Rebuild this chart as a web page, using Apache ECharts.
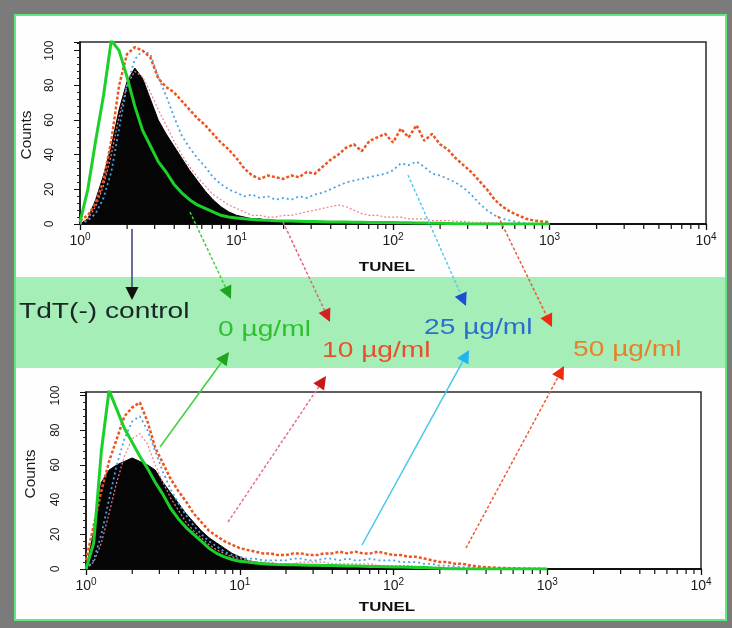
<!DOCTYPE html>
<html>
<head>
<meta charset="utf-8">
<script src="https://cdn.jsdelivr.net/npm/echarts@6.0.0/dist/echarts.min.js"></script>
<style>
html,body{margin:0;padding:0;background:#7b7b7b;}
#c{width:732px;height:628px;}
</style>
</head>
<body>
<div id="c"></div>
<script>
// Channel positions as log10 exponents of TUNEL intensity (0 .. 3.0)
const exps = [0,0.05,0.1,0.15,0.2,0.25,0.3,0.35,0.4,0.45,
  0.5,0.55,0.6,0.65,0.7,0.75,0.8,0.85,0.9,0.95,
  1,1.05,1.1,1.15,1.2,1.25,1.3,1.35,1.4,1.45,
  1.5,1.55,1.6,1.65,1.7,1.75,1.8,1.85,1.9,1.95,
  2,2.05,2.1,2.15,2.2,2.25,2.3,2.35,2.4,2.45,
  2.5,2.55,2.6,2.65,2.7,2.75,2.8,2.85,2.9,2.95,
  3];

// ---- Top panel counts ----
const topControl = [0,3,14,28,45,66,82,90,84,72,
  60,52,45,38,31,25,19,14,10,7,
  5,4,3,3,2,2,2,1.5,1,1,
  1,1,1,1,1,0.8,0.8,0.7,0.6,0.6,
  0.5,0.5,0.4,0.4,0.3,0.3,0.2,0.2,0.1,0.1,
  0,0,0,0,0,0,0,0,0,0,
  0];
const topZero = [1,20,48,74,106,100,85,68,54,45,
  36,30,23,18,14,11,9,7,5,4,
  3.5,3,2.6,2.3,2.1,1.9,1.8,1.7,1.6,1.5,
  1.4,1.3,1.2,1.2,1.1,1,1,0.9,0.9,0.8,
  0.8,0.7,0.7,0.6,0.6,0.5,0.4,0.3,0.2,0.1,
  0,0,0,0,0,0,0,0,0,0,
  0];
const topTen = [1,3,10,22,40,62,80,88,85,76,
  66,57,48,40,33,27,22,17,14,11,
  9,7,5,5,4,4,5,5,6,7,
  8,9,10,11,10,8,6,5,5,4,
  4,4,3,3,3,2,2,2,1.5,1.5,
  1,1,0.8,0.6,0.5,0.4,0.3,0.2,0.1,0.1,
  0];
const topTwentyFive = [0,2,6,15,30,55,80,95,100,98,
  85,74,62,51,44,38,33,27,23,20,
  18,16,17,15,16,14,15,14,16,15,
  17,18,20,22,24,25,26,27,28,29,
  31,35,34,36,33,29,28,26,24,21,
  17,12,8,5,3,2,1,0.5,0,0,
  0];
const topFifty = [2,5,12,25,48,80,98,102,100,96,
  84,79,76,71,66,61,57,52,47,43,
  38,32,28,26,28,27,26,28,27,30,
  29,33,37,40,44,46,42,48,50,52,
  47,55,50,57,48,52,46,43,38,34,
  30,25,20,14,10,7,5,3,2,1.5,
  1];

// ---- Bottom panel counts ----
const botControl = [0,22,50,57,60,62,64,62,60,57,
  50,44,38,32,27,22,18,15,12,9,
  7,5,4,3.5,3,2.5,2.2,2,2,1.8,
  1.6,1.5,1.5,1.4,1.3,1.2,1.1,1,1,0.9,
  0.8,0.7,0.6,0.5,0.5,0.4,0.3,0.2,0.1,0.1,
  0,0,0,0,0,0,0,0,0,0,
  0];
const botZero = [0,15,68,103,92,81,73,65,58,50,
  43,35,29,24,20,16,12,9,7,5.5,
  4.5,4,3.5,3,2.8,2.6,2.5,2.4,2.3,2.2,
  2.1,2,2,1.9,1.8,1.7,1.6,1.5,1.4,1.3,
  1.2,1.1,1,0.9,0.8,0.6,0.4,0.2,0.1,0,
  0,0,0,0,0,0,0,0,0,0,
  0];
const botTen = [0,4,15,32,50,65,75,78,72,60,
  50,41,34,27,22,18,14,11,9,7,
  6,5,4,4,4,3,3,3,4,4,
  4,4,3,3,3,3,3,3,2,2,
  2,2,2,1.5,1.5,1,1,0.8,0.6,0.4,
  0.3,0.2,0.1,0,0,0,0,0,0,0,
  0];
const botTwentyFive = [0,5,20,40,60,75,85,88,80,68,
  56,46,38,31,25,20,16,13,10,8,
  7,6,6,5,5,5,5,6,6,5,
  5,6,6,5,6,5,5,6,5,5,
  5,4,4,4,3,3,2,2,1.5,1,
  1,0.5,0.3,0.2,0,0,0,0,0,0,
  0];
const botFifty = [5,25,45,62,75,88,93,96,85,70,
  61,52,45,39,32,27,22,19,16,14,
  12,11,10,9,9,8,8,9,9,8,
  8,9,9,10,9,10,9,9,10,9,
  8,8,7,7,6,5,4,4,3,3,
  2,1.5,1,0.8,0.6,0.5,0.4,0.3,0.2,0.1,
  0];

// Labels
const axisTitleX = 'TUNEL';
const axisTitleY = 'Counts';
const controlLabel = 'TdT(-) control';
const doseLabels = ['0 µg/ml','10 µg/ml','25 µg/ml','50 µg/ml'];

const FONT = "'Liberation Sans', Arial, Helvetica, sans-serif";
const chart = echarts.init(document.getElementById('c'));
const toPairs = arr => exps.map((e, i) => [Math.pow(10, e), arr[i]]);

// minor log ticks (2..9 within each decade)
const minorVals = [];
for (let d = 0; d < 4; d++) for (let m = 2; m <= 9; m++) minorVals.push([m * Math.pow(10, d), 0]);

function xAxisCfg(gi) {
  return {
    gridIndex: gi, type: 'log', logBase: 10, min: 1, max: 10000,
    axisLine: {show: true, lineStyle: {color: '#111', width: 2}},
    axisTick: {show: true, length: 6, lineStyle: {color: '#111', width: 1.3}},
    minorTick: {show: false}, splitLine: {show: false},
    axisLabel: {
      margin: 8,
      formatter: v => '{b|10}{s|' + Math.round(Math.log10(v)) + '}',
      rich: {
        b: {fontSize: 14, fontFamily: FONT, color: '#1a1a1a'},
        s: {fontSize: 10, fontFamily: FONT, color: '#1a1a1a', padding: [0, 0, 9, 0]}
      }
    }
  };
}
function yAxisCfg(gi, max) {
  return {
    gridIndex: gi, type: 'value', min: 0, max: max, interval: 20,
    axisLine: {show: true, lineStyle: {color: '#111', width: 1.5}},
    axisTick: {show: true, length: 6, lineStyle: {color: '#111'}},
    minorTick: {show: true, splitNumber: 5, length: 3, lineStyle: {color: '#222'}},
    splitLine: {show: false},
    axisLabel: {rotate: 90, fontSize: 12, fontFamily: FONT, color: '#1a1a1a', margin: 24,
      formatter: v => (v % 20 === 0 ? String(v) : '')}
  };
}
function hist(gi, arr, style) {
  return Object.assign({type: 'line', xAxisIndex: gi, yAxisIndex: gi, data: toPairs(arr),
    symbol: 'none', smooth: false, animation: false, clip: true, silent: true}, style);
}
function minorTicks(gi) {
  return {type: 'custom', xAxisIndex: gi, yAxisIndex: gi, data: minorVals, silent: true, clip: false, z: 5,
    renderItem: (p, api) => {
      const pt = api.coord([api.value(0), 0]);
      return {type: 'line', shape: {x1: pt[0], y1: pt[1] + 1, x2: pt[0], y2: pt[1] + 5},
        style: {stroke: '#111', lineWidth: 1.2}};
    }};
}
function panelSeries(gi, ctrl, ten, tf, fifty, zero) {
  return [
    hist(gi, ctrl, {z: 2, lineStyle: {color: '#050505', width: 1}, areaStyle: {color: '#050505', opacity: 1}}),
    hist(gi, ten, {z: 3, lineStyle: {color: '#f07f8f', width: 1.2, type: [2, 2]}}),
    hist(gi, tf, {z: 4, lineStyle: {color: '#4aa3e6', width: 1.8, type: [2, 3]}}),
    hist(gi, fifty, {z: 5, lineStyle: {color: '#ec5520', width: 2.5, type: [3, 2]}}),
    hist(gi, zero, {z: 6, lineStyle: {color: '#1ccf2a', width: 3}}),
    minorTicks(gi)
  ];
}

// annotation arrows (pixel space)
const arrows = [
  {from: [132, 229], to: [132, 300], line: '#39407a', head: '#111', w: 1.5},
  {from: [190, 212], to: [231, 299], line: '#3fcf3f', head: '#1fa51f', dash: [3, 2]},
  {from: [283, 222], to: [330, 322], line: '#e2667a', head: '#d81e1e', dash: [3, 2]},
  {from: [408, 175], to: [466, 306], line: '#62c6ee', head: '#1c4fd2', dash: [3, 2]},
  {from: [498, 216], to: [552, 327], line: '#e0603c', head: '#ee2a12', dash: [3, 2]},
  {from: [160, 447], to: [229, 352], line: '#3fcf3f', head: '#1fa51f'},
  {from: [228, 522], to: [326, 376], line: '#e8708a', head: '#c81818', dash: [3, 2]},
  {from: [362, 545], to: [469, 350], line: '#45c8f0', head: '#22b4ec'},
  {from: [466, 548], to: [564, 366], line: '#ee5a3a', head: '#ee2a10', dash: [3, 2]}
];
function arrowEls(a) {
  const [x1, y1] = a.from, [x2, y2] = a.to;
  const dx = x2 - x1, dy = y2 - y1, L = Math.hypot(dx, dy), ux = dx / L, uy = dy / L;
  const hl = 13, hw = 6.5, bx = x2 - ux * hl, by = y2 - uy * hl, px = -uy, py = ux;
  return [
    {type: 'line', z: 50, silent: true, shape: {x1: x1, y1: y1, x2: bx, y2: by},
      style: {stroke: a.line, lineWidth: a.w || 1.5, lineDash: a.dash || null}},
    {type: 'polygon', z: 51, silent: true,
      shape: {points: [[x2, y2], [bx + px * hw, by + py * hw], [bx - px * hw, by - py * hw]]},
      style: {fill: a.head}}
  ];
}
function txt(text, x, y, color, o) {
  o = o || {};
  const al = o.align || 'left';
  return {type: 'text', z: 60, silent: true, x: x, y: y, rotation: o.rot || 0,
    scaleX: o.sx || 1.28, scaleY: o.sy || 1,
    style: {text: text, fill: color, font: (o.weight || 'normal') + ' ' + (o.size || 22) + 'px ' + FONT,
      align: al, textAlign: al, verticalAlign: 'middle', textVerticalAlign: 'middle'}};
}

const graphics = [
  {type: 'rect', z: -10, silent: true, shape: {x: 15, y: 15, width: 711, height: 605},
    style: {fill: '#fdfefd', stroke: '#5fe87f', lineWidth: 2}},
  {type: 'rect', z: -9, silent: true, shape: {x: 16, y: 277, width: 709, height: 91},
    style: {fill: '#a6eeb8'}},
  txt(axisTitleX, 387, 267, '#111', {size: 13, weight: 'bold', align: 'center', sx: 1.3}),
  txt(axisTitleX, 387, 607, '#111', {size: 13, weight: 'bold', align: 'center', sx: 1.3}),
  txt(axisTitleY, 27, 135, '#1a1a1a', {size: 14, align: 'center', rot: Math.PI / 2, sx: 1.1}),
  txt(axisTitleY, 31, 474, '#1a1a1a', {size: 14, align: 'center', rot: Math.PI / 2, sx: 1.1}),
  txt(controlLabel, 19, 312, '#1b2626'),
  txt(doseLabels[0], 218, 330, '#2fc02f'),
  txt(doseLabels[1], 322, 351, '#e8502a'),
  txt(doseLabels[2], 424, 328, '#2a6fd0'),
  txt(doseLabels[3], 573, 350, '#e8802a')
];
arrows.forEach(a => graphics.push(...arrowEls(a)));

chart.setOption({
  animation: false,
  backgroundColor: '#7b7b7b',
  grid: [
    {left: 80, top: 42, width: 626, height: 182, show: true, borderColor: '#2a2a2a', borderWidth: 1.5, backgroundColor: '#fff'},
    {left: 86, top: 392, width: 615, height: 177, show: true, borderColor: '#2a2a2a', borderWidth: 1.5, backgroundColor: '#fff'}
  ],
  xAxis: [xAxisCfg(0), xAxisCfg(1)],
  yAxis: [yAxisCfg(0, 105), yAxisCfg(1, 102)],
  series: [].concat(
    panelSeries(0, topControl, topTen, topTwentyFive, topFifty, topZero),
    panelSeries(1, botControl, botTen, botTwentyFive, botFifty, botZero)
  ),
  graphic: {elements: graphics}
});
</script>
</body>
</html>
